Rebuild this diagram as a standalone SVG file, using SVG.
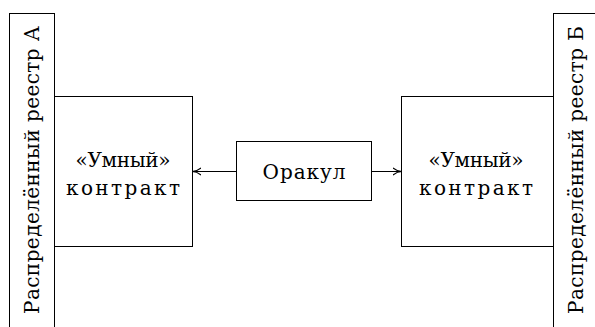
<svg xmlns="http://www.w3.org/2000/svg" width="595" height="327" viewBox="0 0 595 327">
<defs>
<style>
.b{fill:#fff;stroke:#000;stroke-width:1}
.t{font-family:"DejaVu Serif","Liberation Serif",serif;font-size:20px;fill:#000;text-anchor:middle}
.c{stroke:#000;stroke-width:1;fill:none}
</style>
<marker id="ah" viewBox="0 0 10 10" refX="9" refY="5" markerWidth="9" markerHeight="9" orient="auto-start-reverse" markerUnits="userSpaceOnUse">
<path d="M0,1 Q5,5 10,5 Q5,5 0,9" fill="none" stroke="#000" stroke-width="1.3"/>
</marker>
</defs>
<rect width="595" height="327" fill="#fff"/>
<g id="ledgerA">
<rect class="b" x="9.5" y="13.5" width="45" height="330"/>
<text class="t" transform="translate(39,170) rotate(-90)" textLength="288" lengthAdjust="spacing">Распределённый реестр А</text>
</g>
<g id="ledgerB">
<rect class="b" x="553.5" y="13.5" width="45" height="330"/>
<text class="t" transform="translate(583,170) rotate(-90)" textLength="288" lengthAdjust="spacing">Распределённый реестр Б</text>
</g>
<g id="contractA">
<rect class="b" x="54.5" y="96.5" width="138" height="150"/>
<text class="t" x="123" y="167" textLength="95" lengthAdjust="spacing">«Умный»</text>
<text class="t" x="123" y="195" textLength="114" lengthAdjust="spacing">контракт</text>
</g>
<g id="contractB">
<rect class="b" x="401.5" y="96.5" width="152" height="150"/>
<text class="t" x="476" y="167" textLength="95" lengthAdjust="spacing">«Умный»</text>
<text class="t" x="476" y="195" textLength="114" lengthAdjust="spacing">контракт</text>
</g>
<g id="oracle">
<rect class="b" x="236.5" y="141.5" width="135" height="59"/>
<text class="t" x="304" y="179" textLength="83" lengthAdjust="spacing">Оракул</text>
</g>
<g id="connectors">
<line class="c" x1="236" y1="171.5" x2="193" y2="171.5" marker-end="url(#ah)"/>
<line class="c" x1="372" y1="171.5" x2="401" y2="171.5" marker-end="url(#ah)"/>
</g>
</svg>
